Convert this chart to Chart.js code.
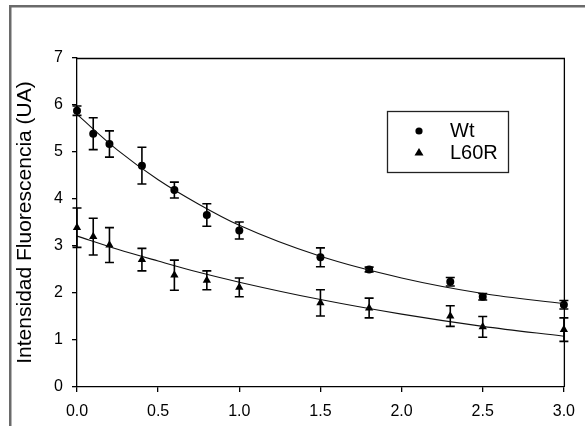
<!DOCTYPE html>
<html><head><meta charset="utf-8">
<script src="https://cdn.jsdelivr.net/npm/chart.js@4"></script>
<style>html,body{margin:0;padding:0;background:#fff;}#wrap{position:relative;width:585px;height:426px;}</style>
</head><body><div id="wrap"><canvas id="c" width="585" height="426"></canvas></div>
<script>
// ---- data ----
const timePoints = [0, 0.1, 0.2, 0.4, 0.6, 0.8, 1.0, 1.5, 1.8, 2.3, 2.5, 3.0];
const wtValues   = [5.88, 5.39, 5.17, 4.71, 4.19, 3.66, 3.33, 2.76, 2.50, 2.24, 1.92, 1.75];
const wtErrors   = [0.10, 0.34, 0.28, 0.39, 0.17, 0.24, 0.18, 0.20, 0.05, 0.09, 0.07, 0.09];
const l60rValues = [3.39, 3.20, 3.02, 2.71, 2.38, 2.27, 2.12, 1.79, 1.68, 1.51, 1.28, 1.22];
const l60rErrors = [0.42, 0.39, 0.37, 0.24, 0.32, 0.20, 0.20, 0.28, 0.21, 0.22, 0.22, 0.25];
const fitX       = [0, 0.25, 0.5, 0.75, 1.0, 1.5, 2.0, 2.5, 3.0];
const wtFit      = [5.80, 5.04, 4.41, 3.89, 3.44, 2.78, 2.32, 1.99, 1.77];
const l60rFit    = [3.21, 2.93, 2.68, 2.44, 2.23, 1.86, 1.55, 1.29, 1.08];
const seriesNames = ['Wt', 'L60R'];
const yAxisTitle = 'Intensidad Fluorescencia (UA)';
const xTicks = [0, 0.5, 1.0, 1.5, 2.0, 2.5, 3.0];
const yTicks = [0, 1, 2, 3, 4, 5, 6, 7];

const pts = (xs, ys) => xs.map((x, i) => ({x: x, y: ys[i]}));
const FONT = "'Liberation Sans', Arial, sans-serif";

const framePlugin = {
  id: 'frame',
  beforeDraw(chart) {
    const ctx = chart.ctx;
    ctx.save();
    ctx.fillStyle = '#fff';
    ctx.fillRect(0, 0, chart.width, chart.height);
    ctx.strokeStyle = '#6a6a6a';
    ctx.lineWidth = 2.5;
    ctx.strokeRect(10.25, 6.25, 900, 900);
    ctx.restore();
  },
  beforeDatasetsDraw(chart) {
    const a = chart.chartArea, ctx = chart.ctx;
    ctx.save();
    ctx.strokeStyle = '#000';
    ctx.lineWidth = 1.3;
    ctx.beginPath();
    ctx.moveTo(a.left, a.top + 0.5);
    ctx.lineTo(a.right + 0.5, a.top + 0.5);
    ctx.lineTo(a.right + 0.5, a.bottom);
    ctx.stroke();
    ctx.restore();
  }
};

const errorBarPlugin = {
  id: 'errorBars',
  afterDatasetsDraw(chart) {
    const ctx = chart.ctx, xs = chart.scales.x, ys = chart.scales.y;
    ctx.save();
    ctx.strokeStyle = '#000';
    ctx.lineWidth = 1.6;
    chart.data.datasets.forEach(ds => {
      if (!ds.errors) return;
      ds.data.forEach((p, i) => {
        const e = ds.errors[i];
        const px = xs.getPixelForValue(p.x);
        const top = ys.getPixelForValue(p.y + e);
        const bot = ys.getPixelForValue(p.y - e);
        ctx.beginPath();
        ctx.moveTo(px, top); ctx.lineTo(px, bot);
        ctx.moveTo(px - 4.5, top); ctx.lineTo(px + 4.5, top);
        ctx.moveTo(px - 4.5, bot); ctx.lineTo(px + 4.5, bot);
        ctx.stroke();
      });
    });
    ctx.restore();
  }
};

const legendPlugin = {
  id: 'boxLegend',
  afterDraw(chart) {
    const ctx = chart.ctx;
    ctx.save();
    ctx.strokeStyle = '#222';
    ctx.lineWidth = 1.3;
    ctx.strokeRect(387.5, 111.5, 121, 61);
    ctx.fillStyle = '#000';
    ctx.beginPath(); ctx.arc(419, 131, 3.6, 0, Math.PI * 2); ctx.fill();
    ctx.beginPath();
    ctx.moveTo(419, 148); ctx.lineTo(423.5, 155.5); ctx.lineTo(414.5, 155.5); ctx.closePath(); ctx.fill();
    ctx.font = '20px ' + FONT;
    ctx.textBaseline = 'middle';
    ctx.textAlign = 'left';
    ctx.fillText(seriesNames[0], 450, 131);
    ctx.fillText(seriesNames[1], 450, 153);
    ctx.restore();
  }
};

new Chart(document.getElementById('c'), {
  type: 'scatter',
  data: {
    datasets: [
      { label: seriesNames[0] + ' fit', type: 'line', data: pts(fitX, wtFit), borderColor: '#111', borderWidth: 1.1,
        pointRadius: 0, cubicInterpolationMode: 'monotone', fill: false, clip: false },
      { label: seriesNames[1] + ' fit', type: 'line', data: pts(fitX, l60rFit), borderColor: '#111', borderWidth: 1.1,
        pointRadius: 0, cubicInterpolationMode: 'monotone', fill: false, clip: false },
      { label: seriesNames[0], data: pts(timePoints, wtValues), errors: wtErrors, pointStyle: 'circle', pointRadius: 4,
        backgroundColor: '#000', borderColor: '#000', borderWidth: 0, clip: false },
      { label: seriesNames[1], data: pts(timePoints, l60rValues), errors: l60rErrors, pointStyle: 'triangle', pointRadius: 4.8,
        backgroundColor: '#000', borderColor: '#000', borderWidth: 0, clip: false }
    ]
  },
  options: {
    responsive: false,
    animation: false,
    devicePixelRatio: 1,
    layout: { padding: { left: 0, top: 58, right: 21, bottom: 0 } },
    plugins: { legend: { display: false }, tooltip: { enabled: false } },
    scales: {
      x: {
        type: 'linear', min: 0, max: 3,
        afterBuildTicks: s => { s.ticks = xTicks.map(v => ({value: v})); },
        afterFit: s => { s.height = 39; },
        ticks: { color: '#000', font: { family: FONT, size: 16 }, padding: 10,
                 callback: v => Number(v).toFixed(1), maxRotation: 0, autoSkip: false },
        grid: { drawOnChartArea: false, drawTicks: true, tickLength: 5, color: '#000', lineWidth: 1.3 },
        border: { display: true, color: '#000', width: 1.3 }
      },
      y: {
        type: 'linear', min: 0, max: 7,
        afterBuildTicks: s => { s.ticks = yTicks.map(v => ({value: v})); },
        afterFit: s => { s.width = 77; },
        ticks: { color: '#000', font: { family: FONT, size: 16 }, padding: 9 },
        grid: { drawOnChartArea: false, drawTicks: true, tickLength: 5, color: '#000', lineWidth: 1.3 },
        border: { display: true, color: '#000', width: 1.3 },
        title: { display: true, text: yAxisTitle, color: '#000', font: { family: FONT, size: 21 },
                 padding: { top: 13, bottom: 0 } }
      }
    }
  },
  plugins: [framePlugin, errorBarPlugin, legendPlugin]
});
</script></body></html>
